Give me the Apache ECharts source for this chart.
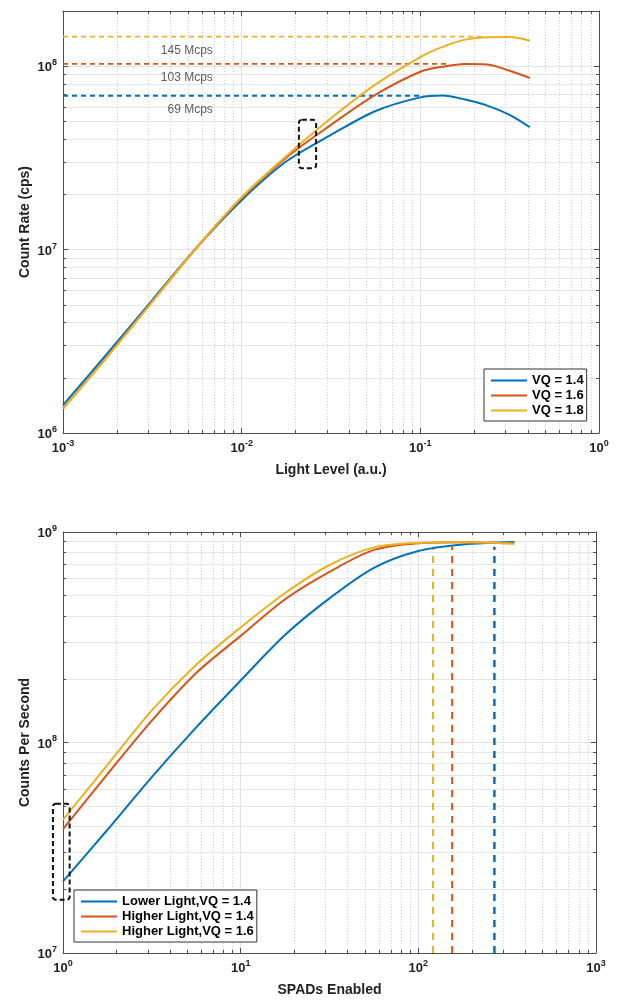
<!DOCTYPE html>
<html>
<head>
<meta charset="utf-8">
<script src="https://cdn.jsdelivr.net/npm/echarts@6/dist/echarts.min.js"></script>
<style>
  html, body { margin: 0; padding: 0; background: #fff; }
  #chart { width: 624px; height: 1000px; }
</style>
</head>
<body>
<div id="chart"></div>
<script>
// ---- Upper panel: count rate versus light level ----
const lightLevel = [0.001, 0.00178, 0.00316, 0.00562, 0.01, 0.0178, 0.0316, 0.0562, 0.1, 0.133, 0.178, 0.237, 0.316, 0.41];
const rateVq14   = [1.42e6, 2.73e6, 5.31e6, 1.03e7, 1.86e7, 3.03e7, 4.22e7, 5.70e7, 6.76e7, 6.92e7, 6.58e7, 6.10e7, 5.43e7, 4.65e7];
const rateVq16   = [1.36e6, 2.63e6, 5.22e6, 1.03e7, 1.91e7, 3.18e7, 4.79e7, 7.00e7, 9.33e7, 9.93e7, 1.028e8, 1.023e8, 9.44e7, 8.63e7];
const rateVq18   = [1.36e6, 2.62e6, 5.19e6, 1.03e7, 1.93e7, 3.24e7, 5.20e7, 7.96e7, 1.122e8, 1.274e8, 1.396e8, 1.439e8, 1.442e8, 1.377e8];
const upperNames = ['VQ = 1.4', 'VQ = 1.6', 'VQ = 1.8'];
const peakRate   = [69e6, 103e6, 145e6];        // maximum count rate per VQ
const peakReach  = [0.104, 0.14, 0.22];          // light level where each reference line ends
const peakLabelAt = 0.0069;                      // light level the rate labels are right-aligned to
const upperBox   = [0.0209, 0.0261, 2.78e7, 5.1e7];  // [x0, x1, y0, y1]
const upperXTicks = [1e-3, 1e-2, 1e-1, 1];
const upperYTicks = [1e6, 1e7, 1e8];

// ---- Lower panel: counts per second versus enabled SPADs ----
const spads       = [1, 1.78, 3.16, 5.62, 10, 17.8, 31.6, 56.2, 100, 178, 347];
const lowLight14  = [2.19e7, 3.85e7, 6.85e7, 1.18e8, 1.97e8, 3.25e8, 4.84e8, 6.76e8, 8.13e8, 8.73e8, 8.97e8];
const highLight14 = [3.88e7, 7.08e7, 1.27e8, 2.14e8, 3.21e8, 4.79e8, 6.46e8, 8.22e8, 8.85e8, 8.95e8, 8.83e8];
const highLight16 = [4.30e7, 7.82e7, 1.42e8, 2.34e8, 3.52e8, 5.13e8, 6.97e8, 8.45e8, 8.87e8, 8.93e8, 8.79e8];
const lowerNames = ['Lower Light,VQ = 1.4', 'Higher Light,VQ = 1.4', 'Higher Light,VQ = 1.6'];
const saturationSpads = [268, 155, 121];         // blue, red, yellow
const saturationTop = 8.5e8;
const lowerBox   = [0.878, 1.09, 1.79e7, 5.12e7];
const lowerXTicks = [1, 10, 100, 1000];
const lowerYTicks = [1e7, 1e8, 1e9];

const COLORS = ['#0072BD', '#D95319', '#EDB120'];
const AXIS_COLOR = '#4d4d4d';
const TEXT_COLOR = '#222';
const FONT = '"Liberation Sans", Arial, Helvetica, sans-serif';

function minorValues(majors) {
  const out = [];
  for (let i = 0; i < majors.length - 1; i++) {
    for (let m = 2; m <= 9; m++) out.push(+(m * majors[i]).toPrecision(6));
  }
  return out;
}

function powLabel(v) {
  const e = Math.round(Math.log10(v));
  return '{b|10}{e|' + e + '}';
}

const labelRich = {
  b: { fontSize: 13, fontWeight: 'bold', color: TEXT_COLOR, fontFamily: FONT, verticalAlign: 'bottom' },
  e: { fontSize: 9, fontWeight: 'bold', color: TEXT_COLOR, fontFamily: FONT, verticalAlign: 'bottom', padding: [0, 0, 7, 0] }
};

// Four log axes per dimension: labelled major, minor, mirrored major, mirrored minor
function logAxes(dim, gridIndex, min, max, majors, name, nameGap) {
  const minors = minorValues(majors);
  const main = dim === 'x' ? 'bottom' : 'left';
  const opp = dim === 'x' ? 'top' : 'right';
  const base = { type: 'log', logBase: 10, gridIndex, min, max, silent: true,
                 minorTick: { show: false }, minorSplitLine: { show: false } };
  const line = { show: true, onZero: false, lineStyle: { color: AXIS_COLOR, width: 1 } };
  return [
    Object.assign({}, base, {
      position: main, name, nameLocation: 'middle', nameGap, nameMoveOverlap: false,
      nameTextStyle: { fontSize: 14, fontWeight: 'bold', color: TEXT_COLOR, fontFamily: FONT },
      axisLine: line,
      axisTick: { show: true, inside: true, length: 5, customValues: majors, lineStyle: { color: AXIS_COLOR } },
      axisLabel: { show: true, customValues: majors, formatter: powLabel, rich: labelRich, margin: 6 },
      splitLine: { show: true, lineStyle: { color: '#e2e2e2', width: 1, type: 'solid' } }
    }),
    Object.assign({}, base, {
      position: main,
      axisLine: { show: false },
      axisTick: { show: true, inside: true, length: 3, customValues: minors, lineStyle: { color: AXIS_COLOR } },
      axisLabel: { show: false },
      splitLine: { show: true, lineStyle: { color: dim === 'x' ? '#d2d2d2' : '#e6e6e6', width: 1, type: dim === 'x' ? [1, 2] : 'solid' } }
    }),
    Object.assign({}, base, {
      position: opp,
      axisLine: line,
      axisTick: { show: true, inside: true, length: 5, customValues: majors, lineStyle: { color: AXIS_COLOR } },
      axisLabel: { show: false },
      splitLine: { show: false }
    }),
    Object.assign({}, base, {
      position: opp,
      axisLine: { show: false },
      axisTick: { show: true, inside: true, length: 3, customValues: minors, lineStyle: { color: AXIS_COLOR } },
      axisLabel: { show: false },
      splitLine: { show: false }
    })
  ];
}

const zip = (xs, ys) => xs.map((x, i) => [x, ys[i]]);

function curve(name, xs, ys, color, axisIdx) {
  return {
    type: 'line', name, data: zip(xs, ys), xAxisIndex: axisIdx, yAxisIndex: axisIdx,
    symbol: 'none', smooth: 0.3, z: 5,
    lineStyle: { color, width: 2 }, itemStyle: { color }
  };
}

function dashed(name, pts, color, width, dash, axisIdx) {
  return {
    type: 'line', name, data: pts, xAxisIndex: axisIdx, yAxisIndex: axisIdx,
    symbol: 'none', z: 3, silent: true,
    lineStyle: { color, width, type: dash }
  };
}

function dashBox(box, axisIdx) {
  return {
    type: 'custom', xAxisIndex: axisIdx, yAxisIndex: axisIdx, clip: false, silent: true, z: 6,
    data: [box], encode: { x: [0, 1], y: [2, 3] },
    renderItem(params, api) {
      const p0 = api.coord([api.value(0), api.value(3)]);
      const p1 = api.coord([api.value(1), api.value(2)]);
      return {
        type: 'rect',
        shape: { x: p0[0], y: p0[1], width: p1[0] - p0[0], height: p1[1] - p0[1], r: 3 },
        style: { fill: 'none', stroke: '#111', lineWidth: 2, lineDash: [5, 3] }
      };
    }
  };
}

const series = [];
// upper reference lines at the maximum rates
peakRate.forEach((r, i) => {
  series.push(dashed('peak' + i, [[upperXTicks[0], r], [peakReach[i], r]], COLORS[i], 1.8, [5, 4], 0));
});
series.push({
  type: 'scatter', xAxisIndex: 0, yAxisIndex: 0, silent: true, z: 4,
  data: peakRate.map(r => [peakLabelAt, r]), symbolSize: 2,
  itemStyle: { color: 'rgba(0,0,0,0)' },
  label: {
    show: true, position: [1, 15], align: 'right', verticalAlign: 'middle',
    formatter: p => Math.round(p.value[1] / 1e6) + ' Mcps',
    fontSize: 12, color: '#333', fontFamily: FONT
  },
  labelLayout: { hideOverlap: false }
});
series.push(curve(upperNames[0], lightLevel, rateVq14, COLORS[0], 0));
series.push(curve(upperNames[1], lightLevel, rateVq16, COLORS[1], 0));
series.push(curve(upperNames[2], lightLevel, rateVq18, COLORS[2], 0));
series.push(dashBox(upperBox, 0));

// lower saturation markers
saturationSpads.forEach((s, i) => {
  series.push(dashed('sat' + i, [[s, lowerYTicks[0]], [s, saturationTop]], COLORS[i], i === 0 ? 2.5 : 2, [7, 6], 4));
});
series.push(curve(lowerNames[0], spads, lowLight14, COLORS[0], 4));
series.push(curve(lowerNames[1], spads, highLight14, COLORS[1], 4));
series.push(curve(lowerNames[2], spads, highLight16, COLORS[2], 4));
series.push(dashBox(lowerBox, 4));

const legendBase = {
  orient: 'vertical', icon: 'rect', itemWidth: 36, itemHeight: 2, itemGap: 0,
  backgroundColor: '#fff', borderColor: '#333', borderWidth: 1, borderRadius: 0,
  selectedMode: false,
  textStyle: { fontSize: 13, fontWeight: 'bold', color: '#000', fontFamily: FONT, lineHeight: 15 }
};

const option = {
  animation: false,
  backgroundColor: '#fff',
  textStyle: { fontFamily: FONT },
  grid: [
    { left: 63, top: 11, width: 536, height: 422, show: false },
    { left: 63, top: 532, width: 533, height: 421, show: false }
  ],
  xAxis: [].concat(
    logAxes('x', 0, 1e-3, 1, upperXTicks, 'Light Level (a.u.)', 30),
    logAxes('x', 1, 1, 1000, lowerXTicks, 'SPADs Enabled', 30)
  ),
  yAxis: [].concat(
    logAxes('y', 0, 1e6, 2e8, upperYTicks, 'Count Rate (cps)', 31),
    logAxes('y', 1, 1e7, 1e9, lowerYTicks, 'Counts Per Second', 31)
  ),
  legend: [
    Object.assign({}, legendBase, { data: upperNames, left: 484, top: 369, padding: [4, 3, 3, 7] }),
    Object.assign({}, legendBase, { data: lowerNames, left: 74, top: 890, padding: [4, 3, 3, 7] })
  ],
  series
};

const chart = echarts.init(document.getElementById('chart'), null, { renderer: 'canvas' });
chart.setOption(option);
</script>
</body>
</html>
